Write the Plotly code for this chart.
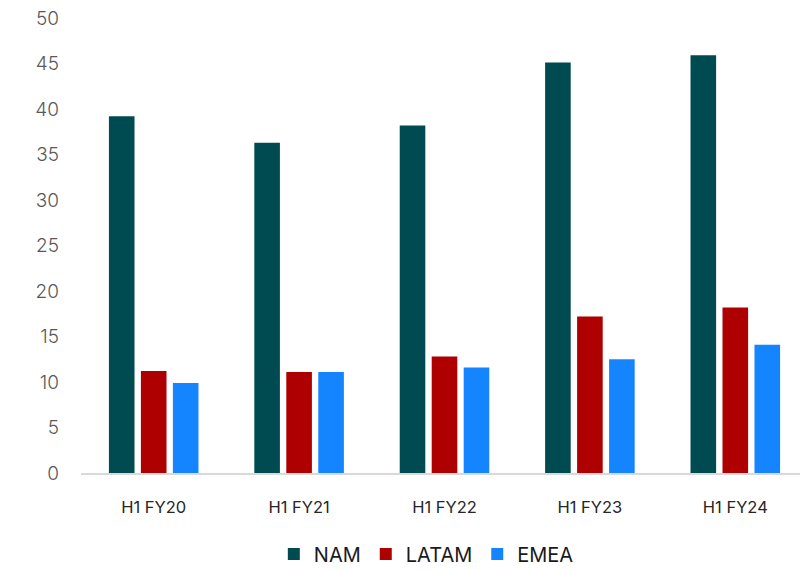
import plotly.graph_objects as go

# values
periods = ['H1 FY20', 'H1 FY21', 'H1 FY22', 'H1 FY23', 'H1 FY24']
nam = [39.2, 36.3, 38.2, 45.1, 45.9]
latam = [11.2, 11.1, 12.8, 17.2, 18.2]
emea = [9.9, 11.1, 11.6, 12.5, 14.1]

series = [('NAM', nam, '#004a51'), ('LATAM', latam, '#ae0000'), ('EMEA', emea, '#1584ff')]

fig = go.Figure()
for name, vals, col in series:
    fig.add_trace(go.Bar(name=name, x=periods, y=vals, marker_color=col,
                         marker_line_width=0))

# page body adds an 8px offset, so the figure is 800x562
fig.update_layout(
    width=800, height=562,
    margin=dict(l=73, r=0, t=10, b=97, autoexpand=False),
    paper_bgcolor='white', plot_bgcolor='white',
    font=dict(family='Inter', size=17, color='#262626'),
    barmode='group', bargap=0.34, bargroupgap=0.2,
    showlegend=True,
    legend=dict(orientation='h', x=0.475, xanchor='center', y=-0.178, yanchor='middle',
                font=dict(size=20, color='#1a1a1a'), itemwidth=30,
                traceorder='normal'),
)
fig.update_xaxes(showline=True, linecolor='#d9d9d9', linewidth=2, showgrid=False,
                 ticks='', ticklabelstandoff=18, automargin=False,
                 tickfont=dict(size=16.5, color='#262626'))
fig.update_yaxes(range=[0, 50], dtick=5, showgrid=False, zeroline=False, showline=False,
                 ticks='', ticklabelstandoff=21, automargin=False, ticklabeloverflow='allow',
                 tickfont=dict(size=19, color='#595959', weight=300))

fig.write_html('out.html')
